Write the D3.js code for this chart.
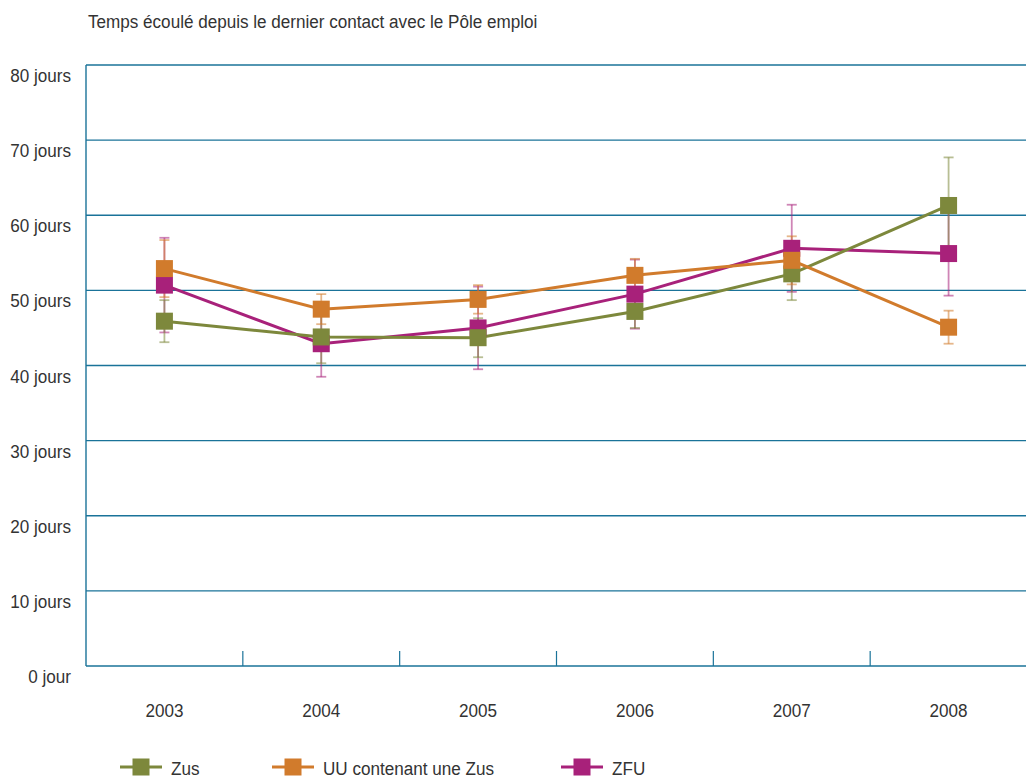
<!DOCTYPE html>
<html>
<head>
<meta charset="utf-8">
<script src="https://cdn.jsdelivr.net/npm/d3@7"></script>
<style>
  html, body { margin: 0; padding: 0; background: #fff; }
  svg text { font-family: "Liberation Sans", Arial, sans-serif; fill: #333; font-size: 19px; }
</style>
</head>
<body>
<svg id="chart" width="1026" height="778"></svg>
<script>
// Survey years
const years = ["2003", "2004", "2005", "2006", "2007", "2008"];

// Mean delay (days) and half-width of the confidence interval, per zone type
const zus     = [45.9, 43.8, 43.7, 47.2, 52.2, 61.3];
const zusErr  = [2.8, 3.5, 2.6, 2.2, 3.5, 6.4];
const uu      = [52.9, 47.5, 48.8, 52.0, 54.0, 45.1];
const uuErr   = [3.8, 2.0, 1.9, 2.2, 3.2, 2.2];
const zfu     = [50.7, 42.9, 45.0, 49.5, 55.6, 54.9];
const zfuErr  = [6.3, 4.4, 5.5, 4.6, 5.8, 5.6];

const yTicks = [0, 10, 20, 30, 40, 50, 60, 70, 80];
const yTickLabels = ["0 jour", "10 jours", "20 jours", "30 jours", "40 jours", "50 jours", "60 jours", "70 jours", "80 jours"];

const seriesNames = ["Zus", "UU contenant une Zus", "ZFU"];
const colors = { zus: "#7d883c", uu: "#d17b2c", zfu: "#a8217a" };

const series = [
  { name: seriesNames[2], values: zfu, err: zfuErr, color: colors.zfu },
  { name: seriesNames[0], values: zus, err: zusErr, color: colors.zus },
  { name: seriesNames[1], values: uu,  err: uuErr,  color: colors.uu }
];

const svg = d3.select("#chart");
const margin = { left: 86, right: 0, top: 65, bottom: 112 };
const W = 1026, H = 778;
const axisColor = "#1a7399";
const narrow = 0.9; // horizontal squeeze giving a condensed face

// Text helper: condensed text anchored at (x, y)
function label(parent, x, y, str, anchor) {
  return parent.append("text")
    .attr("transform", `translate(${x},${y}) scale(${narrow},1)`)
    .attr("text-anchor", anchor || "start")
    .text(str);
}

const x = d3.scaleBand().domain(years).range([margin.left, W + 1]).padding(0);
const y = d3.scaleLinear().domain([0, 80]).range([H - margin.bottom, margin.top]);
const cx = d => x(d) + x.bandwidth() / 2;

// Title
label(svg, 88, 28, "Temps écoulé depuis le dernier contact avec le Pôle emploi");

// Horizontal gridlines
svg.append("g").selectAll("line").data(yTicks.filter(t => t > 0)).join("line")
  .attr("x1", margin.left).attr("x2", W)
  .attr("y1", d => y(d)).attr("y2", d => y(d))
  .attr("stroke", axisColor).attr("stroke-width", 1.4);

// Y tick labels
const yl = svg.append("g");
yTicks.forEach((t, i) => label(yl, 71, y(t) + 17, yTickLabels[i], "end"));

// Left axis and bottom axis
svg.append("line")
  .attr("x1", margin.left).attr("x2", margin.left)
  .attr("y1", y(80)).attr("y2", y(0))
  .attr("stroke", axisColor).attr("stroke-width", 1.4);
svg.append("line")
  .attr("x1", margin.left).attr("x2", W)
  .attr("y1", y(0)).attr("y2", y(0))
  .attr("stroke", axisColor).attr("stroke-width", 1.6);

// Category separators on the bottom axis
svg.append("g").selectAll("line").data(years.slice(1)).join("line")
  .attr("x1", d => x(d)).attr("x2", d => x(d))
  .attr("y1", y(0)).attr("y2", y(0) - 15)
  .attr("stroke", axisColor).attr("stroke-width", 1.2);

// Year labels
const xl = svg.append("g");
years.forEach(yr => label(xl, cx(yr), 717, yr, "middle"));

// Confidence intervals
series.forEach(s => {
  const g = svg.append("g").attr("stroke", s.color).attr("stroke-opacity", 0.55).attr("stroke-width", 1.8);
  years.forEach((yr, i) => {
    const lo = y(s.values[i] - s.err[i]), hi = y(s.values[i] + s.err[i]);
    g.append("line").attr("x1", cx(yr)).attr("x2", cx(yr)).attr("y1", lo).attr("y2", hi);
    g.append("line").attr("x1", cx(yr) - 5).attr("x2", cx(yr) + 5).attr("y1", lo).attr("y2", lo);
    g.append("line").attr("x1", cx(yr) - 5).attr("x2", cx(yr) + 5).attr("y1", hi).attr("y2", hi);
  });
});

// Lines and markers
const line = d3.line().x((d, i) => cx(years[i])).y(d => y(d));
const size = 17;
series.forEach(s => {
  svg.append("path")
    .datum(s.values)
    .attr("d", line)
    .attr("fill", "none")
    .attr("stroke", s.color)
    .attr("stroke-width", 3);
});
series.forEach(s => {
  svg.append("g").selectAll("rect").data(s.values).join("rect")
    .attr("x", (d, i) => cx(years[i]) - size / 2)
    .attr("y", d => y(d) - size / 2)
    .attr("width", size).attr("height", size)
    .attr("fill", s.color);
});

// Legend
const legend = [
  { name: seriesNames[0], color: colors.zus, x: 120 },
  { name: seriesNames[1], color: colors.uu,  x: 272 },
  { name: seriesNames[2], color: colors.zfu, x: 561 }
];
const ly = 767;
legend.forEach(l => {
  const g = svg.append("g");
  g.append("line").attr("x1", l.x).attr("x2", l.x + 42).attr("y1", ly).attr("y2", ly)
    .attr("stroke", l.color).attr("stroke-width", 3);
  g.append("rect").attr("x", l.x + 21 - size / 2).attr("y", ly - size / 2)
    .attr("width", size).attr("height", size).attr("fill", l.color);
  label(g, l.x + 51, ly + 8, l.name);
});
</script>
</body>
</html>
